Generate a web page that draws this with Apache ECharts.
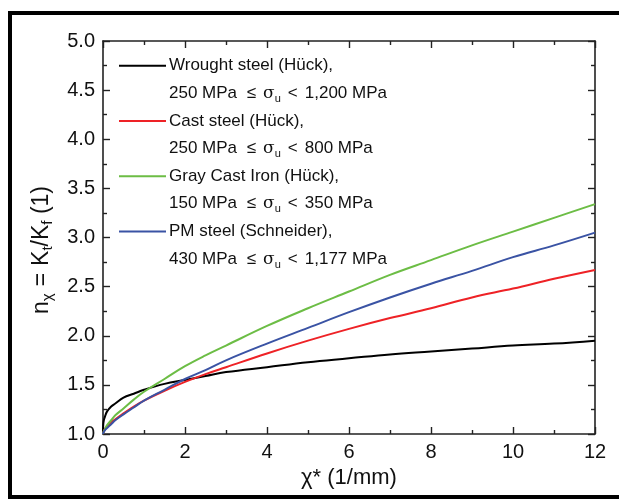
<!DOCTYPE html>
<html>
<head>
<meta charset="utf-8">
<script src="https://cdn.jsdelivr.net/npm/echarts@6/dist/echarts.min.js"></script>
<style>
html,body{margin:0;padding:0;background:#fff;}
#chart{width:619px;height:500px;}
</style>
</head>
<body>
<div id="chart"></div>
<script>
// chi* values (1/mm)
var chi = [0, 0.005, 0.02, 0.05, 0.1, 0.2, 0.3, 0.5, 0.75, 1, 1.5, 2, 2.5, 3, 4, 5, 6, 7, 8, 9, 10, 11, 12];
// n_chi
var wroughtSteel = [1.00, 1.09, 1.14, 1.18, 1.23, 1.28, 1.31, 1.37, 1.41, 1.45, 1.51, 1.55, 1.59, 1.63, 1.68, 1.73, 1.77, 1.81, 1.84, 1.87, 1.90, 1.92, 1.95];
var castSteel    = [1.00, 1.01, 1.03, 1.05, 1.08, 1.12, 1.15, 1.21, 1.28, 1.34, 1.44, 1.53, 1.61, 1.68, 1.82, 1.95, 2.07, 2.18, 2.28, 2.39, 2.48, 2.58, 2.67];
var grayCastIron = [1.00, 1.01, 1.03, 1.05, 1.09, 1.14, 1.19, 1.26, 1.35, 1.43, 1.56, 1.69, 1.80, 1.90, 2.10, 2.28, 2.45, 2.62, 2.77, 2.92, 3.06, 3.20, 3.34];
var pmSteel      = [1.00, 1.01, 1.02, 1.04, 1.06, 1.10, 1.14, 1.20, 1.27, 1.34, 1.45, 1.56, 1.65, 1.75, 1.92, 2.08, 2.24, 2.39, 2.53, 2.66, 2.80, 2.92, 3.05];

var seriesNames = ['Wrought steel (Hück),', 'Cast steel (Hück),', 'Gray Cast Iron (Hück),', 'PM steel (Schneider),'];
var rangeTexts = [
  '250 MPa {o|≤}{s|σ}{u|u}{o|<}1,200 MPa',
  '250 MPa {o|≤}{s|σ}{u|u}{o|<}800 MPa',
  '150 MPa {o|≤}{s|σ}{u|u}{o|<}350 MPa',
  '430 MPa {o|≤}{s|σ}{u|u}{o|<}1,177 MPa'
];
var seriesValues = [wroughtSteel, castSteel, grayCastIron, pmSteel];
var colors = ['#000000', '#ee2226', '#6cbd45', '#3a53a4'];

var xTicks = {min: 0, max: 12, interval: 2};
var yTicks = {min: 1, max: 5, interval: 0.5};
var xTitle = 'χ* (1/mm)';
var yTitle = 'n{s|χ}{e|=}K{s|t}/K{s|f} (1)';

var FONT = 'Liberation Sans, Arial, sans-serif';

function pairs(vals) { return chi.map(function (x, i) { return [x, vals[i]]; }); }

var chart = echarts.init(document.getElementById('chart'), null, {renderer: 'canvas'});

var axisCommon = {
  axisLine: {show: true, onZero: false, lineStyle: {color: '#222', width: 1.6}},
  axisTick: {show: true, inside: true, length: 7, lineStyle: {color: '#222', width: 1.4}},
  minorTick: {show: true, splitNumber: 2, length: 4, lineStyle: {color: '#222', width: 1.4}},
  splitLine: {show: false},
  minorSplitLine: {show: false}
};

var series = seriesValues.map(function (vals, i) {
  return {
    type: 'line',
    name: seriesNames[i],
    data: pairs(vals),
    xAxisIndex: 0, yAxisIndex: 0,
    showSymbol: false,
    smooth: 0.4,
    lineStyle: {color: colors[i], width: 2},
    itemStyle: {color: colors[i]},
    z: 2 + i
  };
});

var graphics = [
  {type: 'rect', shape: {x: 10, y: 13, width: 700, height: 484}, style: {fill: 'none', stroke: '#000', lineWidth: 4}, silent: true, z: 100},
  {type: 'text', x: 42, y: 250, rotation: Math.PI / 2, z: 50,
    style: {text: yTitle, fontSize: 23, fontFamily: FONT, fill: '#111', align: 'center', verticalAlign: 'middle', lineHeight: 27,
      rich: {
        s: {fontSize: 15, fontFamily: FONT, fill: '#111', lineHeight: 15, verticalAlign: 'bottom'},
        e: {fontSize: 23, fontFamily: FONT, fill: '#111', lineHeight: 27, padding: [0, 7, 0, 7]}
      }}}
];
var legX1 = 119, legX2 = 166, legTextX = 169, legY0 = 65.7, legStep = 55.3, legSub = 27.5;
for (var i = 0; i < 4; i++) {
  var y = legY0 + i * legStep;
  graphics.push({type: 'line', shape: {x1: legX1, y1: y, x2: legX2, y2: y}, style: {stroke: colors[i], lineWidth: 2}, z: 50});
  graphics.push({type: 'text', x: legTextX, y: y, z: 50,
    style: {text: seriesNames[i], fontSize: 17, fontFamily: FONT, fill: '#111', verticalAlign: 'middle', align: 'left'}});
  graphics.push({type: 'text', x: legTextX, y: y + legSub, z: 50,
    style: {text: rangeTexts[i], fontSize: 17, fontFamily: FONT, fill: '#111', verticalAlign: 'middle', align: 'left', lineHeight: 22,
      rich: {
        o: {fontSize: 17, fontFamily: FONT, fill: '#111', lineHeight: 22, padding: [0, 7, 0, 5]},
        s: {fontSize: 17, fontFamily: 'DejaVu Serif, serif', fill: '#111', lineHeight: 22},
        u: {fontSize: 11, fontFamily: FONT, fill: '#111', lineHeight: 10, verticalAlign: 'bottom', padding: [0, 2, 0, 0]}
      }}});
}

var option = {
  animation: false,
  backgroundColor: '#fff',
  grid: {left: 103, right: 24, top: 41, bottom: 66, containLabel: false},
  xAxis: [
    Object.assign({}, axisCommon, {
      type: 'value', position: 'bottom', min: xTicks.min, max: xTicks.max, interval: xTicks.interval,
      axisLabel: {show: true, margin: 8, fontSize: 20, fontFamily: FONT, color: '#111'},
      name: xTitle, nameLocation: 'middle', nameGap: 30,
      nameTextStyle: {fontSize: 22, fontFamily: FONT, color: '#111', verticalAlign: 'top'}
    }),
    Object.assign({}, axisCommon, {
      type: 'value', position: 'top', min: xTicks.min, max: xTicks.max, interval: xTicks.interval,
      axisLabel: {show: false}
    })
  ],
  yAxis: [
    Object.assign({}, axisCommon, {
      type: 'value', position: 'left', min: yTicks.min, max: yTicks.max, interval: yTicks.interval,
      axisLabel: {show: true, margin: 8, fontSize: 20, fontFamily: FONT, color: '#111',
        formatter: function (v) { return v.toFixed(1); }}
    }),
    Object.assign({}, axisCommon, {
      type: 'value', position: 'right', min: yTicks.min, max: yTicks.max, interval: yTicks.interval,
      axisLabel: {show: false}
    })
  ],
  series: series,
  graphic: graphics
};

chart.setOption(option);
</script>
</body>
</html>
